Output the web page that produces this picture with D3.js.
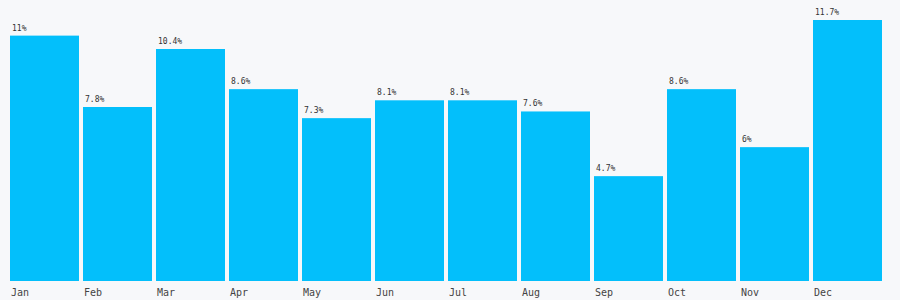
<!DOCTYPE html>
<html>
<head>
<meta charset="utf-8">
<script src="https://cdn.jsdelivr.net/npm/d3@7"></script>
<style>
  html, body { margin: 0; padding: 0; background: #f7f8fa; }
  .bar rect { fill: #03bffb; }
  .bar text { fill: #333; font: 8px "DejaVu Sans Mono", monospace; }
  .month { fill: #444; font: 10px "DejaVu Sans Mono", monospace; }
</style>
</head>
<body>
<script>
var months = ["Jan", "Feb", "Mar", "Apr", "May", "Jun", "Jul", "Aug", "Sep", "Oct", "Nov", "Dec"];
var values = [11, 7.8, 10.4, 8.6, 7.3, 8.1, 8.1, 7.6, 4.7, 8.6, 6, 11.7];

var width = 900, height = 300;

var x = d3.scaleBand()
  .domain(months)
  .range([10, 882])
  .paddingInner(4 / 73)
  .paddingOuter(0);

var y = d3.scaleLinear()
  .domain([0, d3.max(values)])
  .range([281, 20]);

var svg = d3.select("body").append("svg")
  .attr("width", width)
  .attr("height", height);

var data = months.map(function(m, i) { return { month: m, value: values[i] }; });

var bar = svg.selectAll(".bar")
  .data(data)
  .enter().append("g")
  .attr("class", "bar")
  .attr("transform", function(d) { return "translate(" + x(d.month) + ",0)"; });

bar.append("rect")
  .attr("y", function(d) { return y(d.value); })
  .attr("width", x.bandwidth())
  .attr("height", function(d) { return y(0) - y(d.value); });

bar.append("text")
  .attr("x", 2)
  .attr("y", function(d) { return y(d.value) - 5; })
  .text(function(d) { return d.value + "%"; });

svg.selectAll(".month")
  .data(data)
  .enter().append("text")
  .attr("class", "month")
  .attr("x", function(d) { return x(d.month) + 1; })
  .attr("y", 296)
  .text(function(d) { return d.month; });
</script>
</body>
</html>
